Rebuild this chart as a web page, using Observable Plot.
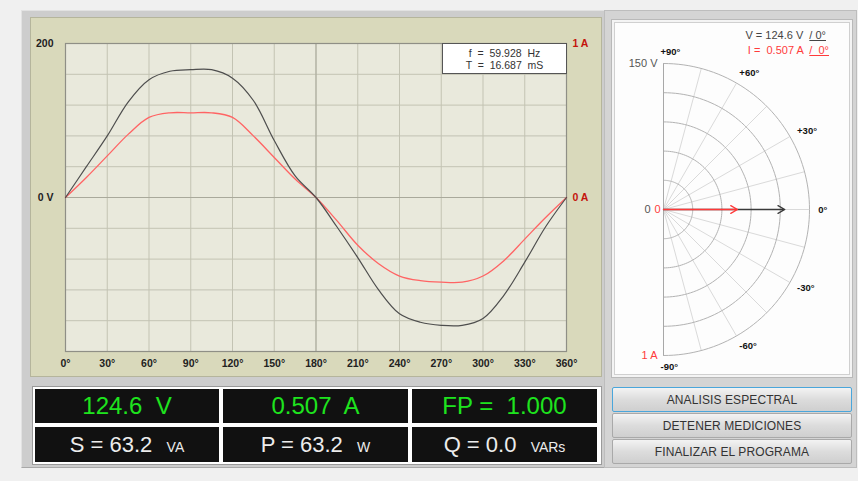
<!DOCTYPE html>
<html>
<head>
<meta charset="utf-8">
<script src="https://cdn.jsdelivr.net/npm/d3@7"></script>
<script src="https://cdn.jsdelivr.net/npm/@observablehq/plot@0.6"></script>
<style>
  html, body { margin: 0; padding: 0; }
  body { width: 858px; height: 481px; background: #f0f0f0; position: relative; overflow: hidden;
         font-family: "Liberation Sans", Arial, sans-serif; }
  .abs { position: absolute; box-sizing: border-box; }
  .cell { position: absolute; background: #111; display: flex; align-items: center; justify-content: center;
          white-space: pre; box-sizing: border-box; }
  .green { color: #1ee41e; font-size: 24px; }
  .white { color: #ececec; font-size: 22px; }
  .unit { font-size: 14px; margin-left: 2px; position: relative; top: 2px; }
  .btn { position: absolute; left: 612px; width: 240px; height: 25px; box-sizing: border-box;
         border: 1px solid #a9a9a9; border-radius: 2px;
         background: linear-gradient(#f3f3f3, #dcdcdc 50%, #cfcfcf);
         display: flex; align-items: center; justify-content: center;
         font-size: 12px; color: #333; letter-spacing: 0.1px; }
</style>
</head>
<body>
<div class="abs" style="left:21px;top:10px;width:590px;height:458px;background:#cdcdcd;border:1px solid #e2e2e2;border-right-color:#a8a8a8;border-bottom-color:#a8a8a8;"></div>
<div class="abs" style="left:604px;top:10px;width:253px;height:458px;background:#d4d4d4;border:1px solid #bdbdbd;"></div>
<div id="wave" class="abs" style="left:30px;top:17px;width:572px;height:360px;background:#d9d9bb;border:1px solid #b5b59c;"></div>
<div id="info" class="abs" style="left:442px;top:43px;width:125px;height:31px;background:#fff;border:1px solid #555;font-size:10.5px;color:#333;line-height:12px;padding-top:3px;text-align:center;white-space:pre;"></div>
<div class="abs" style="left:611px;top:19px;width:242px;height:359px;background:#fdfdfd;border:1px solid #b9b9b9;box-shadow: inset 0 0 0 2px #f4f4f4, inset 0 0 0 3px #d0d0d0;"></div>
<div id="polar" class="abs" style="left:613px;top:22px;width:237px;height:353px;"></div>
<div id="hdr" class="abs" style="left:700px;top:28px;width:140px;font-size:11px;line-height:15px;white-space:pre;"></div>
<div id="disp" class="abs" style="left:32px;top:386px;width:570px;height:79px;background:#fff;border:1px solid #9a9a9a;"></div>
<div id="btns"></div>

<script>
// ---------------- data ----------------
const angles   = [0, 15, 30, 45, 60, 75, 90, 105, 120, 135, 150, 165, 180, 195, 210, 225, 240, 255, 270, 285, 300, 315, 330, 345, 360];
const voltage  = [0, 40, 80, 124, 153, 164, 166, 166, 155, 126, 74, 28, 0, -38, -78, -120, -151, -162, -166, -166, -157, -127, -84, -38, 0];
const current  = [0, 0.13, 0.27, 0.41, 0.52, 0.55, 0.55, 0.55, 0.52, 0.40, 0.26, 0.12, 0, -0.15, -0.31, -0.43, -0.51, -0.54, -0.55, -0.55, -0.51, -0.41, -0.27, -0.13, 0];
const xTicks   = [0, 30, 60, 90, 120, 150, 180, 210, 240, 270, 300, 330, 360];
const yGrid    = [-200, -160, -120, -80, -40, 0, 40, 80, 120, 160, 200];
const leftTicks  = [200, 0];
const leftLabels = ["200", "0 V"];
const rightLabels = ["1 A", "0 A"];
const ampFull = 1;        // 1 A = top of chart (200 V)
const vFull = 200;

const freqText = "f  =  59.928  Hz";
const periodText = "T  =  16.687  mS";

const vRms = 124.6, iRms = 0.507, vAngle = 0, iAngle = 0;
const polarRings = [30, 60, 90, 120, 150];
const polarSpokes = [-75, -60, -45, -30, -15, 0, 15, 30, 45, 60, 75];
const polarLabelAngles = [90, 60, 30, 0, -30, -60, -90];
const polarLabels = ["+90°", "+60°", "+30°", "0°", "-30°", "-60°", "-90°"];
const polarVFull = 150, polarAFull = 1;

const cellsTop = [["124.6  V"], ["0.507  A"], ["FP =  1.000"]];
const cellsBottom = [["S = 63.2  ", "VA"], ["P = 63.2  ", "W"], ["Q = 0.0  ", "VARs"]];
const buttons = ["ANALISIS ESPECTRAL", "DETENER MEDICIONES", "FINALIZAR EL PROGRAMA"];

// ---------------- waveform ----------------
const vData = angles.map((a, i) => ({a, v: voltage[i]}));
const iData = angles.map((a, i) => ({a, v: current[i] / ampFull * vFull}));

const wave = Plot.plot({
  width: 570, height: 358,
  marginLeft: 34, marginRight: 35, marginTop: 25, marginBottom: 25,
  style: {background: "transparent", fontFamily: "'Liberation Sans', Arial, sans-serif", fontSize: "10.5px", fontWeight: "bold", color: "#222"},
  x: {type: "linear", domain: [0, 360]},
  y: {type: "linear", domain: [-200, 200]},
  marks: [
    Plot.frame({fill: "#e9e9dc", stroke: null}),
    Plot.ruleX(xTicks, {stroke: "#c3c3b3", strokeWidth: 1}),
    Plot.ruleY(yGrid, {stroke: "#c3c3b3", strokeWidth: 1}),
    Plot.ruleY([0], {stroke: "#a9a99b", strokeWidth: 1}),
    Plot.ruleX([180], {stroke: "#a9a99b", strokeWidth: 1}),
    Plot.frame({stroke: "#8f8f86", strokeWidth: 1.2}),
    Plot.line(iData, {x: "a", y: "v", stroke: "#ff6464", strokeWidth: 1.3, curve: "catmull-rom"}),
    Plot.line(vData, {x: "a", y: "v", stroke: "#4e4e4e", strokeWidth: 1.2, curve: "catmull-rom"}),
    Plot.axisX(xTicks, {tickSize: 0, tickPadding: 8, tickFormat: d => d + "°", label: null, fill: "#222"}),
    Plot.axisY(leftTicks, {anchor: "left", tickSize: 0, tickPadding: 12, tickFormat: (d, i) => leftLabels[i], label: null, fill: "#222"}),
    Plot.axisY(leftTicks, {anchor: "right", tickSize: 0, tickPadding: 6, tickFormat: (d, i) => rightLabels[i], label: null, fill: "#c4140c"})
  ]
});
document.getElementById("wave").appendChild(wave);
document.getElementById("info").textContent = freqText + "\n" + periodText;

// ---------------- polar ----------------
const rad = d => d * Math.PI / 180;
const ringPts = [];
for (const r of polarRings) for (let a = -90; a <= 90; a += 2) ringPts.push({r, x: r * Math.cos(rad(a)), y: r * Math.sin(rad(a))});
const spokes = polarSpokes.map(a => ({x2: polarVFull * Math.cos(rad(a)), y2: polarVFull * Math.sin(rad(a))}));
const labR = polarVFull * 1.08;
const labs = polarLabelAngles.map((a, i) => ({x: labR * Math.cos(rad(a)), y: labR * Math.sin(rad(a)), t: polarLabels[i]}));
const vArrow = [{x2: vRms * Math.cos(rad(vAngle)), y2: vRms * Math.sin(rad(vAngle))}];
const iArrow = [{x2: iRms / polarAFull * polarVFull * Math.cos(rad(iAngle)), y2: iRms / polarAFull * polarVFull * Math.sin(rad(iAngle))}];

const polar = Plot.plot({
  width: 237, height: 353, margin: 0,
  style: {background: "transparent", fontFamily: "'Liberation Sans', Arial, sans-serif", overflow: "visible"},
  x: {type: "linear", domain: [0, 150], range: [50, 196], axis: null},
  y: {type: "linear", domain: [0, 150], range: [187, 41], axis: null},
  marks: [
    Plot.link(spokes, {x1: 0, y1: 0, x2: "x2", y2: "y2", stroke: "#dadada", strokeWidth: 1}),
    Plot.line(ringPts, {x: "x", y: "y", z: "r", stroke: "#b3b3b3", strokeWidth: 1}),
    Plot.link([{}], {x1: 0, x2: 0, y1: -polarVFull, y2: polarVFull, stroke: "#a8a8a8", strokeWidth: 1}),
    Plot.arrow(vArrow, {x1: 0, y1: 0, x2: "x2", y2: "y2", stroke: "#3a3a3a", strokeWidth: 1.3, headLength: 9}),
    Plot.arrow(iArrow, {x1: 0, y1: 0, x2: "x2", y2: "y2", stroke: "#ff3838", strokeWidth: 1.3, headLength: 9}),
    Plot.text(labs, {x: "x", y: "y", text: "t", textAnchor: "start", dx: -3, fontSize: 9.5, fontWeight: "bold", fill: "#111", letterSpacing: "-0.4px"}),
    Plot.text([polarVFull + " V"], {x: 0, y: polarVFull, text: d => d, textAnchor: "end", dx: -6, fontSize: 11, fill: "#555"}),
    Plot.text([polarAFull + " A"], {x: 0, y: -polarVFull, text: d => d, textAnchor: "end", dx: -6, fontSize: 11, fill: "#ff3b3b"}),
    Plot.text(["0"], {x: 0, y: 0, text: d => d, textAnchor: "end", dx: -13, fontSize: 11, fill: "#555"}),
    Plot.text(["0"], {x: 0, y: 0, text: d => d, textAnchor: "end", dx: -3, fontSize: 11, fill: "#ff3b3b"})
  ]
});
document.getElementById("polar").appendChild(polar);

const hdr = document.getElementById("hdr");
hdr.innerHTML =
  `<div style="color:#444;text-align:right;padding-right:14px">V = ${vRms.toFixed(1)} V  <span style="text-decoration:underline">/ ${vAngle}°</span></div>` +
  `<div style="color:#ff3b3b;text-align:right;padding-right:11px">I =  ${iRms.toFixed(3)} A  <span style="text-decoration:underline">/  ${iAngle}°</span></div>`;

// ---------------- displays ----------------
const disp = document.getElementById("disp");
const colX = [2, 190, 379], colW = [184, 185, 185];
cellsTop.forEach((c, i) => {
  const d = document.createElement("div");
  d.className = "cell green";
  Object.assign(d.style, {left: colX[i] + "px", top: "2px", width: colW[i] + "px", height: "34px"});
  d.textContent = c[0];
  disp.appendChild(d);
});
cellsBottom.forEach((c, i) => {
  const d = document.createElement("div");
  d.className = "cell white";
  Object.assign(d.style, {left: colX[i] + "px", top: "40px", width: colW[i] + "px", height: "35px"});
  d.innerHTML = `<span>${c[0]}</span><span class="unit">${c[1]}</span>`;
  disp.appendChild(d);
});

const btnTops = [387, 413, 439];
buttons.forEach((b, i) => {
  const d = document.createElement("div");
  d.className = "btn";
  d.style.top = btnTops[i] + "px";
  if (i === 0) d.style.borderColor = "#4aa6db";
  d.textContent = b;
  document.body.appendChild(d);
});
</script>
</body>
</html>
